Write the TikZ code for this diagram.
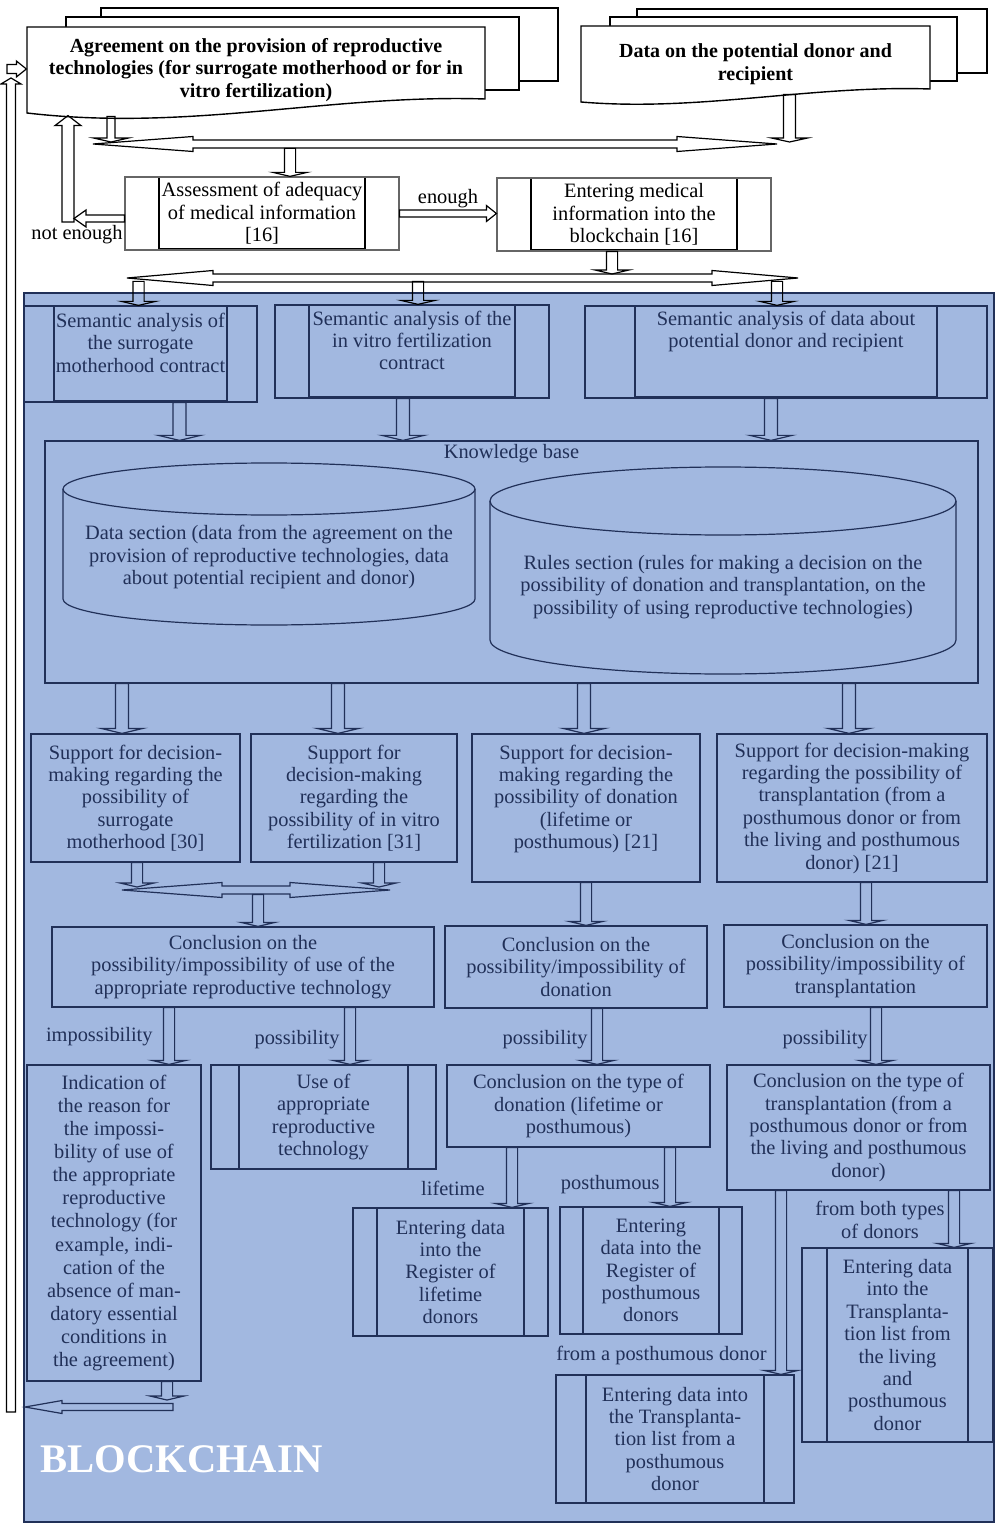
\documentclass[tikz,border=0pt]{standalone}
\usepackage{fontspec}
\setmainfont{Liberation Serif}
\usepackage{xcolor}
\usepackage{tikz}
\usetikzlibrary{positioning,calc}

\definecolor{navy}{RGB}{33,48,88}
\definecolor{chainblue}{RGB}{162,184,224}
\newcommand{\topfont}{\fontsize{10}{11.25}\selectfont\bfseries}

\begin{document}
\begin{tikzpicture}[x=0.5pt, y=-0.5pt,
    txt/.style={align=center, inner sep=0pt, font=\fontsize{10.2}{11.2}\selectfont},
    box/.style={txt, draw=navy, text=navy, line width=0.6pt},
    tbox/.style={txt, draw=black!60, text=black, line width=0.6pt},
    lbl/.style={txt, text=navy},
    pp/.style 2 args={path picture={
        \draw[#2, line width=0.6pt] ([xshift=#1]path picture bounding box.north west) -- ([xshift=#1]path picture bounding box.south west)
            ([xshift=-#1]path picture bounding box.north east) -- ([xshift=-#1]path picture bounding box.south east);}},
    ppb/.style 2 args={path picture={
        \draw[#2, line width=0.6pt] ([xshift=#1]path picture bounding box.north west) -- ([xshift=#1]path picture bounding box.south west)
            ([xshift=-#1]path picture bounding box.north east) -- ([xshift=-#1]path picture bounding box.south east);
        \draw[#2, line width=1.6pt] ([xshift=#1]path picture bounding box.south west) -- ([xshift=-#1]path picture bounding box.south east);}},
    arrdown/.style n args={3}{to path={let \p1=(\tikztostart), \p2=(\tikztotarget) in
        (\x1-#1,\y1) -- (\x1-#1,\y2+#3) -- (\x1-#2,\y2+#3) -- (\x1,\y2) -- (\x1+#2,\y2+#3) -- (\x1+#1,\y2+#3) -- (\x1+#1,\y1) -- cycle}},
    arrup/.style n args={3}{to path={let \p1=(\tikztostart), \p2=(\tikztotarget) in
        (\x1-#1,\y1) -- (\x1-#1,\y2-#3) -- (\x1-#2,\y2-#3) -- (\x1,\y2) -- (\x1+#2,\y2-#3) -- (\x1+#1,\y2-#3) -- (\x1+#1,\y1) -- cycle}},
    arrleft/.style n args={3}{to path={let \p1=(\tikztostart), \p2=(\tikztotarget) in
        (\x1,\y1+#1) -- (\x2+#3,\y1+#1) -- (\x2+#3,\y1+#2) -- (\x2,\y1) -- (\x2+#3,\y1-#2) -- (\x2+#3,\y1-#1) -- (\x1,\y1-#1) -- cycle}},
    arrright/.style n args={3}{to path={let \p1=(\tikztostart), \p2=(\tikztotarget) in
        (\x1,\y1+#1) -- (\x2-#3,\y1+#1) -- (\x2-#3,\y1+#2) -- (\x2,\y1) -- (\x2-#3,\y1-#2) -- (\x2-#3,\y1-#1) -- (\x1,\y1-#1) -- cycle}},
    arrboth/.style n args={3}{to path={let \p1=(\tikztostart), \p2=(\tikztotarget) in
        (\x1,\y1) -- (\x1+#3,\y1+#2) -- (\x1+#3,\y1+#1) -- (\x2-#3,\y1+#1) -- (\x2-#3,\y1+#2) -- (\x2,\y1)
        -- (\x2-#3,\y1-#2) -- (\x2-#3,\y1-#1) -- (\x1+#3,\y1-#1) -- (\x1+#3,\y1-#2) -- cycle}},
    dn/.style={arrdown={2.8pt}{8.5pt}{2pt}},
    dnb/.style={arrdown={3.25pt}{10.5pt}{2.5pt}},
    tline/.style={draw=black, line width=0.6pt},
    bline/.style={draw=navy, line width=0.6pt}]
    \useasboundingbox (0,0) rectangle (1000,1529);

    \draw[fill=white, line width=0.7pt] (101,8) rectangle (558,81);
    \draw[fill=white, line width=0.7pt] (66,17) rectangle (519,90);
    \draw[fill=white, line width=0.7pt] (27,113) -- (27,27) -- (485,27) -- (485,99) .. controls (330,94) and (190,132) .. (27,113) -- cycle;
    \draw[fill=white, line width=0.7pt] (637,9) rectangle (987,73);
    \draw[fill=white, line width=0.7pt] (610,17) rectangle (957,81);
    \draw[fill=white, line width=0.7pt] (581,102) -- (581,26) -- (930,26) -- (930,89) .. controls (810,85) and (700,112) .. (581,102) -- cycle;

    \draw[draw=navy, fill=chainblue, line width=0.8pt] (24,293) rectangle (994,1522);

    \node[tbox, draw=none, font=\topfont, minimum width=229pt, minimum height=43pt] (agree) at (256,70) {Agreement on the provision of reproductive\\technologies (for surrogate motherhood or for in\\vitro fertilization)};
    \node[tbox, draw=none, font=\topfont, minimum width=174.5pt, minimum height=38pt] (data) at (755.5,64) {Data on the potential donor and\\recipient};
    \node[tbox, ppb={17pt}{black}, minimum width=137pt, minimum height=36.5pt] (assess) at (262,213.5) {Assessment of adequacy\\of medical information\\{[16]}};
    \node[tbox, ppb={17pt}{black}, minimum width=137pt, minimum height=36.5pt] (enter) at (634,214.5) {Entering medical\\information into the\\blockchain [16]};
    \node[txt, anchor=east] (notenough) at (123,235) {not enough};
    \node[txt] (enough) at (448,199) {enough};

    \node[box, ppb={15pt}{navy}, minimum width=116.5pt, minimum height=48pt] (sem1) at (140.5,354) {Semantic analysis of\\the surrogate\\motherhood contract\\~};
    \node[box, ppb={17pt}{navy}, minimum width=137pt, minimum height=46.5pt] (sem2) at (412,351.5) {Semantic analysis of the\\in vitro fertilization\\contract\\~};
    \node[box, ppb={25pt}{navy}, minimum width=201pt, minimum height=46pt] (sem3) at (786,352) {Semantic analysis of data about\\potential donor and recipient\\~\\~};

    \node[box, minimum width=466.5pt, minimum height=121pt, label={[lbl, anchor=north, yshift=-2pt]north:Knowledge base}] (kb) at (511.5,562) {};
    \draw[bline] (63,489) -- (63,599) arc[start angle=180, end angle=360, x radius=103pt, y radius=13pt] -- (475,489);
    \draw[bline] (269,489) ellipse [x radius=103pt, y radius=13pt];
    \node[lbl] (datasec) at (269,557) {Data section (data from the agreement on the\\provision of reproductive technologies, data\\about potential recipient and donor)};
    \draw[bline] (490,501) -- (490,640) arc[start angle=180, end angle=360, x radius=116.5pt, y radius=17pt] -- (956,501);
    \draw[bline] (723,501) ellipse [x radius=116.5pt, y radius=17pt];
    \node[lbl] (rulesec) at (723,587) {Rules section (rules for making a decision on the\\possibility of donation and transplantation, on the\\possibility of using reproductive technologies)};

    \node[box, minimum width=104.5pt, minimum height=64pt] (sup1) at (135.5,798) {Support for decision-\\making regarding the\\possibility of\\surrogate\\motherhood [30]};
    \node[box, minimum width=103pt, minimum height=64pt] (sup2) at (354,798) {Support for\\decision-making\\regarding the\\possibility of in vitro\\fertilization [31]};
    \node[box, minimum width=114pt, minimum height=74pt] (sup3) at (586,808) {Support for decision-\\making regarding the\\possibility of donation\\(lifetime or\\posthumous) [21]\\~};
    \node[box, minimum width=135pt, minimum height=74pt] (sup4) at (852,808) {Support for decision-making\\regarding the possibility of\\transplantation (from a\\posthumous donor or from\\the living and posthumous\\donor) [21]};

    \node[box, minimum width=191pt, minimum height=40pt] (conc1) at (243,967) {Conclusion on the\\possibility/impossibility of use of the\\appropriate reproductive technology};
    \node[box, minimum width=131pt, minimum height=41pt] (conc2) at (576,967) {Conclusion on the\\possibility/impossibility of\\donation};
    \node[box, minimum width=131.5pt, minimum height=41pt] (conc3) at (855.5,966) {Conclusion on the\\possibility/impossibility of\\transplantation};

    \node[box, font=\fontsize{10.2}{11.55}\selectfont, minimum width=87pt, minimum height=158pt] (indic) at (114,1223) {Indication of\\the reason for\\the impossi-\\bility of use of\\the appropriate\\reproductive\\technology (for\\example, indi-\\cation of the\\absence of man-\\datory essential\\conditions in\\the agreement)};
    \node[box, pp={14pt}{navy}, minimum width=112.5pt, minimum height=52pt] (use) at (323.5,1117) {Use of\\appropriate\\reproductive\\technology};
    \node[box, minimum width=131.5pt, minimum height=41pt] (ctype1) at (578.5,1106) {Conclusion on the type of\\donation (lifetime or\\posthumous)};
    \node[box, minimum width=131.5pt, minimum height=62.5pt] (ctype2) at (858.5,1127.5) {Conclusion on the type of\\transplantation (from a\\posthumous donor or from\\the living and posthumous\\donor)};
    \node[box, pp={12pt}{navy}, minimum width=97.5pt, minimum height=64pt] (reglife) at (450.5,1272) {Entering data\\into the\\Register of\\lifetime\\donors};
    \node[box, pp={11.5pt}{navy}, minimum width=91pt, minimum height=63.5pt] (regpost) at (651,1270.5) {Entering\\data into the\\Register of\\posthumous\\donors};
    \node[box, pp={15pt}{navy}, minimum width=119pt, minimum height=64pt] (listpost) at (675,1439) {Entering data into\\the Transplanta-\\tion list from a\\posthumous\\donor};
    \node[box, pp={12.5pt}{navy}, minimum width=95.5pt, minimum height=97pt] (listboth) at (897.5,1345) {Entering data\\into the\\Transplanta-\\tion list from\\the living\\and\\posthumous\\donor};

    \node[lbl, anchor=east] (impossl) at (153,1037) {impossibility};
    \node[lbl, anchor=east] (possl1) at (340,1040) {possibility};
    \node[lbl, anchor=east] (possl2) at (588,1040) {possibility};
    \node[lbl, anchor=east] (possl3) at (868,1040) {possibility};
    \node[lbl, anchor=east] (lifel) at (485,1188) {lifetime};
    \node[lbl, anchor=east] (postl) at (660,1185) {posthumous};
    \node[lbl, anchor=east] (fromposl) at (767,1355) {from a posthumous donor};
    \node[lbl] (bothl) at (880,1220) {from both types\\of donors};
    \node[font=\fontsize{20.3}{24}\selectfont\bfseries, text=white, anchor=base west, inner sep=0pt] (chain) at (40,1472) {BLOCKCHAIN};

    \coordinate (bus1w) at (93,144);
    \coordinate (bus1e) at (777,144);
    \coordinate (bus2w) at (127,278);
    \coordinate (bus2e) at (798,278);
    \coordinate (bus3w) at (122,890);
    \coordinate (bus3e) at (390,890);
    \coordinate (nebend) at (68,222);
    \coordinate (fbr) at (173,1407);
    \coordinate (fbl) at (25,1407);
    \coordinate (fbup) at (11,1412);
    \coordinate (fbin) at (7,69);

    \draw[tline, arrboth={2pt}{3.75pt}{50pt}] (bus1w) to (bus1e);
    \draw[tline, arrdown={2pt}{8.75pt}{2pt}] ($(agree.south)+(-145,3)$) to ($(bus1w)+(0,-2)$);
    \draw[tline, arrdown={3pt}{9pt}{2pt}] ($(data.south)+(34,-8)$) to ($(bus1e)+(0,-2)$);
    \draw[tline, dn] ($(assess.north)+(28,-28)$) to (assess.north);
    \draw[tline, arrright={1.75pt}{4pt}{5pt}] (assess.east) to (enter.west);
    \draw[tline, arrleft={1.75pt}{4.25pt}{6pt}] ([yshift=-2.5pt]assess.west) to ($(nebend)+(6,0)$);
    \draw[tline, arrup={3pt}{6.5pt}{5pt}] (nebend) to ($(agree.south west)+(41,2)$);
    \draw[tline, arrboth={2pt}{3.75pt}{43pt}] (bus2w) to (bus2e);
    \draw[tline, dn] ($(enter.south)+(-22,0)$) to ($(bus2w)+(0,-4)$);
    \draw[tline, dn] ($(sem1.north)+(-2,-24)$) to (sem1.north);
    \draw[tline, dn] ($(sem2.north)+(6,-23)$) to (sem2.north);
    \draw[tline, dn] ($(sem3.north)+(-9,-24)$) to (sem3.north);

    \draw[bline, dnb] ($(sem1.south)+(39,0)$) to (kb.north);
    \draw[bline, dnb] ($(sem2.south)+(-9,0)$) to (kb.north);
    \draw[bline, dnb] ($(sem3.south)+(-15,0)$) to (kb.north);
    \draw[bline, dnb] ($(sup1.north |- kb.south)+(-13.5,0)$) to (sup1.north);
    \draw[bline, dnb] ($(sup2.north |- kb.south)+(-16,0)$) to (sup2.north);
    \draw[bline, dnb] ($(sup3.north |- kb.south)+(-2,0)$) to (sup3.north);
    \draw[bline, dnb] ($(sup4.north |- kb.south)+(-3,0)$) to (sup4.north);
    \draw[bline, arrboth={2pt}{3.75pt}{50pt}] (bus3w) to (bus3e);
    \draw[bline, dn] ($(sup1.south)+(1.5,0)$) to ($(bus3w)+(0,-3)$);
    \draw[bline, dn] ($(sup2.south)+(25,0)$) to ($(bus3w)+(0,-3)$);
    \draw[bline, dn] ($(conc1.north)+(15,-32)$) to (conc1.north);
    \draw[bline, dn] (sup3.south) to (conc2.north);
    \draw[bline, dn] ($(sup4.south)+(14,0)$) to (conc3.north);
    \draw[bline, dn] ($(conc1.south)+(-74,0)$) to (indic.north);
    \draw[bline, dn] ($(conc1.south)+(107,0)$) to (use.north);
    \draw[bline, dn] ($(conc2.south)+(21,0)$) to (ctype1.north);
    \draw[bline, dn] ($(conc3.south)+(20.5,0)$) to (ctype2.north);
    \draw[bline, dn] ($(ctype1.south)+(-66.5,0)$) to (reglife.north);
    \draw[bline, dn] ($(ctype1.south)+(91.5,0)$) to (regpost.north);
    \draw[bline, dn] ($(ctype2.south)+(-77.5,0)$) to (listpost.north);
    \draw[bline, dn] ($(ctype2.south)+(95.5,0)$) to (listboth.north);
    \draw[bline, dn] ($(indic.south)+(53,0)$) to ($(fbr)+(0,-7)$);
    \draw[bline, arrleft={1.75pt}{3.25pt}{18.5pt}] (fbr) to (fbl);
    \draw[tline, arrup={2.25pt}{5pt}{3pt}] (fbup) to ($(agree.west)+(-16,8)$);
    \draw[tline, arrright={2.25pt}{4pt}{5pt}] (fbin) to ([yshift=0.5pt]agree.west);
\end{tikzpicture}
\end{document}
